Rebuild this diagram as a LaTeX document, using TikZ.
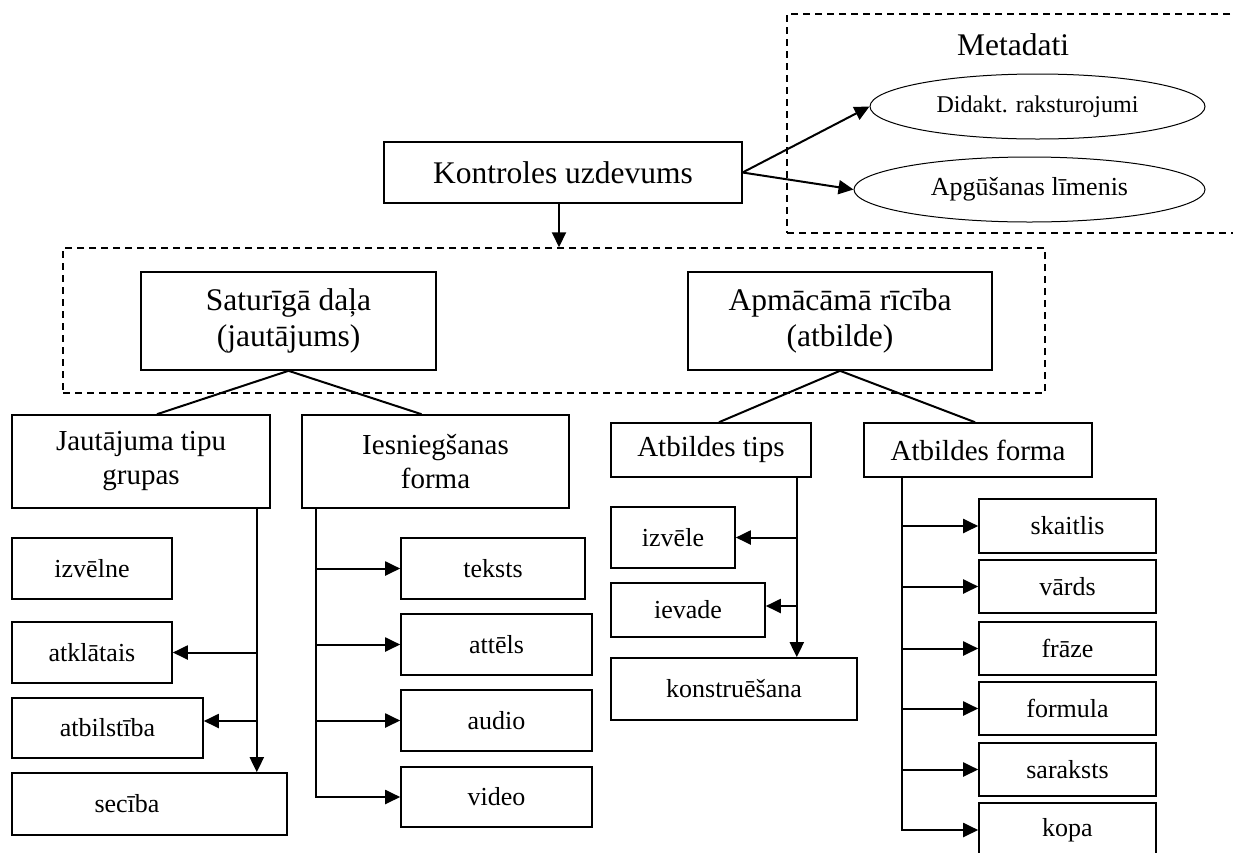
\documentclass[tikz,border=0pt]{standalone}
\usepackage{fontspec}
\setmainfont{Liberation Serif}
\usetikzlibrary{arrows.meta,shapes.geometric,calc}
\newcommand\fsz[2]{\fontsize{#1}{#2}\selectfont}

\begin{document}
\begin{tikzpicture}[x=1pt,y=-1pt,
  box/.style={draw, line width=1.6pt, inner sep=0pt, align=center, rectangle},
  bigtxt/.style={font=\fsz{31.5}{36}},
  midtxt/.style={font=\fsz{29}{34}},
  smalltxt/.style={font=\fsz{26}{30}},
  sbox/.style={box, smalltxt},
  oval/.style={draw, ellipse, line width=1pt, inner sep=0pt},
  dashbox/.style={draw, line width=1.5pt, dash pattern=on 7pt off 5pt, inner sep=0pt, rectangle},
  link/.style={line width=2pt},
  arr/.style={line width=2pt, -{Triangle[length=15pt,width=14pt]}}
]
\useasboundingbox (0,0) rectangle (1233,852);
\fill[white] (0,0) rectangle (1233,852);
\clip (0,0) rectangle (1233,852);

% root task
\node[box, line width=1.1pt, bigtxt, minimum width=358pt, minimum height=61pt] (k) at (563,172.5) {Kontroles uzdevums};

% metadata group
\node[dashbox, minimum width=520pt, minimum height=219pt] (meta) at (1047,123.5) {};
\node[font=\fsz{31.5}{36}] (metat) at (1013,45) {Metadati};
\node[oval, font=\fsz{24}{28}, minimum width=335pt, minimum height=65pt] (e1) at (1037.5,106.5) {Didakt. raksturojumi};
\node[oval, font=\fsz{26}{30}, minimum width=351pt, minimum height=65pt] (e2) at (1029.5,189.5) {Apgūšanas līmenis};
\draw[arr] (k.east) -- (e1.west);
\draw[arr] (k.east) -- (e2.west);

% task body group
\node[dashbox, minimum width=982pt, minimum height=145pt] (grp) at (554,320.5) {};
\draw[arr] ([xshift=-4pt]k.south) -- ([xshift=-4pt]k.south |- grp.north);
\node[box, bigtxt, minimum width=295pt, minimum height=98pt] (s) at (288.5,321) {Saturīgā daļa\\(jautājums)};
\node[box, bigtxt, minimum width=304pt, minimum height=98pt] (ap) at (840,321) {Apmācāmā rīcība\\(atbilde)};

% second level
\node[box, midtxt, minimum width=258pt, minimum height=93pt] (jt) at (141,461.5) {Jautājuma tipu\\grupas};
\node[box, midtxt, minimum width=267pt, minimum height=93pt] (ie) at (435.5,461.5) {Iesniegšanas\\forma};
\node[box, midtxt, minimum width=200pt, minimum height=54pt] (at) at (711,450) {Atbildes tips};
\node[box, midtxt, minimum width=228pt, minimum height=54pt] (af) at (978,450) {Atbildes forma};
\draw[link] (s.south) -- ([xshift=16pt]jt.north);
\draw[link] (s.south) -- ([xshift=-14pt]ie.north);
\draw[link] (ap.south) -- ([xshift=8pt]at.north);
\draw[link] (ap.south) -- ([xshift=-3pt]af.north);

% question type groups
\node[sbox, minimum width=160pt, minimum height=61pt] (izn) at (92,568.5) {izvēlne};
\node[sbox, minimum width=160pt, minimum height=61pt] (atk) at (92,652.5) {atklātais};
\node[sbox, minimum width=191pt, minimum height=60pt] (ab) at (107.5,728) {atbilstība};
\node[box, minimum width=275pt, minimum height=62pt,
      label={[smalltxt, xshift=-22.5pt]center:secība}] (sec) at (149.5,804) {};
\coordinate (jtr) at ([xshift=-14pt]jt.south east);
\draw[arr] (jtr) -- (jtr |- sec.north);
\draw[arr] (jtr |- atk.east) -- (atk.east);
\draw[arr] ($(jtr |- ab.east)+(0,-7)$) -- ($(ab.east)+(0,-7)$);

% presentation forms
\node[sbox, minimum width=184pt, minimum height=61pt] (tx) at (493,568.5) {teksts};
\node[sbox, minimum width=191pt, minimum height=61pt] (im) at (496.5,644.5) {attēls};
\node[sbox, minimum width=191pt, minimum height=61pt] (au) at (496.5,720.5) {audio};
\node[sbox, minimum width=191pt, minimum height=60pt] (vi) at (496.5,797) {video};
\coordinate (ietr) at ([xshift=15pt]ie.south west);
\draw[arr] (ietr) |- (vi.west);
\draw[arr] (ietr |- tx.west) -- (tx.west);
\draw[arr] (ietr |- im.west) -- (im.west);
\draw[arr] (ietr |- au.west) -- (au.west);

% answer types
\node[sbox, minimum width=124pt, minimum height=61pt] (izl) at (673,537.5) {izvēle};
\node[sbox, minimum width=154pt, minimum height=54pt] (iev) at (688,610) {ievade};
\node[sbox, minimum width=246pt, minimum height=62pt] (kon) at (734,689) {konstruēšana};
\coordinate (attr) at ([xshift=-15pt]at.south east);
\draw[arr] (attr) -- (attr |- kon.north);
\draw[arr] (attr |- izl.east) -- (izl.east);
\draw[arr] ($(attr |- iev.east)+(0,-4)$) -- ($(iev.east)+(0,-4)$);

% answer forms
\node[sbox, minimum width=177pt, minimum height=54pt] (f1) at (1067.5,526) {skaitlis};
\node[sbox, minimum width=177pt, minimum height=53pt] (f2) at (1067.5,586.5) {vārds};
\node[sbox, minimum width=177pt, minimum height=53pt] (f3) at (1067.5,648.5) {frāze};
\node[sbox, minimum width=177pt, minimum height=53pt] (f4) at (1067.5,708.5) {formula};
\node[sbox, minimum width=177pt, minimum height=53pt] (f5) at (1067.5,769.5) {saraksts};
\node[sbox, minimum width=177pt, minimum height=54pt] (f6) at (1067.5,830) {kopa};
\coordinate (aftr) at ([xshift=39pt]af.south west);
\draw[arr] (aftr) |- (f6.west);
\foreach \n in {f1,f2,f3,f4,f5}
  \draw[arr] (aftr |- \n.west) -- (\n.west);
\end{tikzpicture}
\end{document}
